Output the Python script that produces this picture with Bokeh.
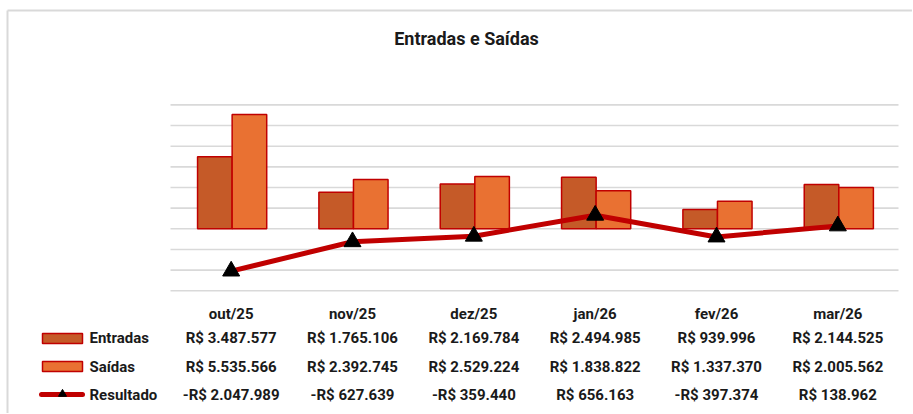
from bokeh.plotting import figure
from bokeh.models import Range1d, ColumnDataSource
from bokeh.core.properties import value
from bokeh.embed import file_html
from bokeh.resources import INLINE

# ---------------- data ----------------
title_text = "Entradas e Saídas"
months = ["out/25", "nov/25", "dez/25", "jan/26", "fev/26", "mar/26"]
entradas = [3487577, 1765106, 2169784, 2494985, 939996, 2144525]
saidas = [5535566, 2392745, 2529224, 1838822, 1337370, 2005562]
resultado = [-2047989, -627639, -359440, 656163, -397374, 138962]
series_names = ["Entradas", "Saídas", "Resultado"]
grid_ticks = [-3000000, -2000000, -1000000, 0, 1000000, 2000000,
              3000000, 4000000, 5000000, 6000000]

# ---------------- styles / layout ----------------
FONT = "Roboto"
TXT = "#1a1a1a"
C_ENT = "#C55A28"
C_SAI = "#E97132"
C_EDGE = "#C00000"
GRID_C = "#d9d9d9"

W, H = 912, 413
PLOT_L, PLOT_R = 170.0, 898.0          # plot area (pixels)
CAT_W = (PLOT_R - PLOT_L) / len(months)
Y0 = 228.3                              # pixel row of value 0
PX_PER_UNIT = 20.65 / 1e6               # pixels per R$


def ux(px):  # pixel -> category units
    return (px - PLOT_L) / CAT_W


def uy(py):  # pixel -> value units
    return (Y0 - py) / PX_PER_UNIT


def brl(v):
    s = f"{abs(v):,}".replace(",", ".")
    return ("-" if v < 0 else "") + "R$ " + s


p = figure(width=W, height=H,
           x_range=Range1d(ux(0), ux(W)),
           y_range=Range1d(uy(H), uy(0)),
           x_axis_type=None, y_axis_type=None,
           output_backend="svg", toolbar_location=None)
p.min_border_left = 0
p.min_border_right = 0
p.min_border_top = 0
p.min_border_bottom = 0
p.outline_line_color = None
p.background_fill_color = "white"
p.border_fill_color = "white"
p.extra_x_ranges = {"px": Range1d(0, W)}
p.extra_y_ranges = {"px": Range1d(H, 0)}
PX = dict(x_range_name="px", y_range_name="px")

# chart border (light gray, top and left)
p.segment(x0=[7, 7], y0=[10, 10], x1=[W, 7], y1=[10, H],
          line_color=GRID_C, line_width=2, **PX)

# horizontal gridlines across the plot area
n = len(months)
p.segment(x0=[0] * len(grid_ticks), x1=[n] * len(grid_ticks),
          y0=grid_ticks, y1=grid_ticks, line_color=GRID_C, line_width=1.6)

centers = [i + 0.5 for i in range(n)]
src = ColumnDataSource(dict(
    c=centers,
    xe=[c + 0.008 - 0.1425 for c in centers],
    xs=[c + 0.008 + 0.1425 for c in centers],
    e=entradas, s=saidas, r=resultado,
    m=months,
    te=[brl(v) for v in entradas],
    ts=[brl(v) for v in saidas],
    tr=[brl(v) for v in resultado],
))

p.vbar(x="xe", top="e", width=0.285, source=src,
       fill_color=C_ENT, line_color=C_EDGE, line_width=1.5)
p.vbar(x="xs", top="s", width=0.285, source=src,
       fill_color=C_SAI, line_color=C_EDGE, line_width=1.5)
p.line(x="c", y="r", source=src, line_color=C_EDGE, line_width=5)
p.scatter(x="c", y="r", source=src, marker="triangle", size=17,
          fill_color="black", line_color="black")

# title
p.text(x=[466], y=[38], text=[title_text], text_align="center",
       text_baseline="middle", text_font=value(FONT), text_font_size="18px",
       text_font_style="bold", text_color=TXT, **PX)

# data table
ROW_Y = [313.5, 337.5, 366.3, 394.2]
for col, yy in zip(["m", "te", "ts", "tr"], ROW_Y):
    p.text(x="c", y=uy(yy), text=col, source=src, text_align="center",
           text_baseline="middle", text_font=value(FONT),
           text_font_size="15px", text_font_style="bold", text_color=TXT)

# legend keys
p.quad(left=42, right=82, top=333, bottom=343,
       fill_color=C_ENT, line_color=C_EDGE, line_width=1.5, **PX)
p.quad(left=42, right=82, top=361, bottom=371,
       fill_color=C_SAI, line_color=C_EDGE, line_width=1.5, **PX)
p.line(x=[41, 82], y=[394, 394], line_color=C_EDGE, line_width=5,
       line_cap="round", **PX)
p.scatter(x=[62], y=[393.5], marker="triangle", size=8,
          fill_color="black", line_color="black", **PX)
p.text(x=[89] * 3, y=ROW_Y[1:], text=series_names, text_align="left",
       text_baseline="middle", text_font=value(FONT), text_font_size="15px",
       text_font_style="bold", text_color=TXT, **PX)

open("out.html", "w").write(file_html(p, INLINE))
